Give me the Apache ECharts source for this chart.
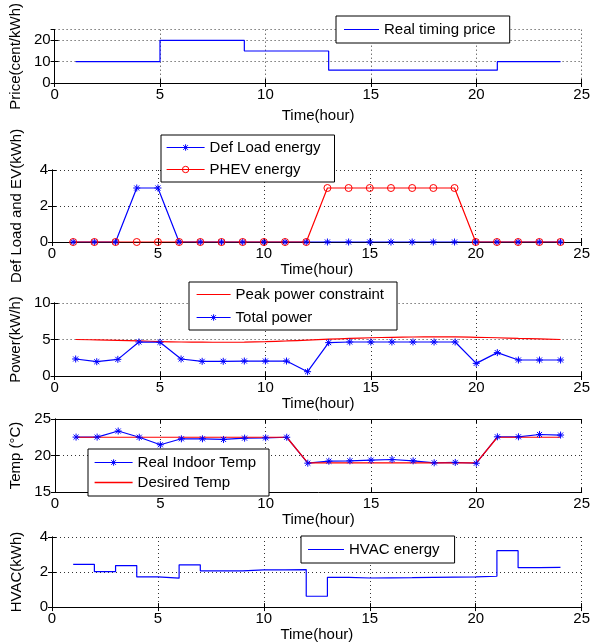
<!DOCTYPE html>
<html><head><meta charset="utf-8">
<script src="https://cdn.jsdelivr.net/npm/echarts@6/dist/echarts.min.js"></script>
<style>html,body{margin:0;padding:0;background:#fff}#c{width:593px;height:643px}</style>
</head><body><div id="c"></div>
<script>
const hours = [1,2,3,4,5,6,7,8,9,10,11,12,13,14,15,16,17,18,19,20,21,22,23,24];
const price = [10,10,10,10,20,20,20,20,15,15,15,15,6,6,6,6,6,6,6,6,10,10,10,10];
const defLoad = [0,0,0,3,3,0,0,0,0,0,0,0,0,0,0,0,0,0,0,0,0,0,0,0];
const phev = [0,0,0,0,0,0,0,0,0,0,0,0,3,3,3,3,3,3,3,0,0,0,0,0];
const peakPower = [5.0,4.95,4.88,4.8,4.72,4.66,4.63,4.62,4.64,4.7,4.8,4.92,5.04,5.15,5.24,5.3,5.34,5.36,5.35,5.3,5.24,5.16,5.08,5.0];
const totalPower = [2.33,1.96,2.28,4.66,4.62,2.33,2.01,2.01,2.05,2.05,2.05,0.59,4.57,4.66,4.66,4.66,4.66,4.66,4.66,1.73,3.2,2.19,2.19,2.19];
const realTemp = [22.52,22.52,23.35,22.5,21.47,22.29,22.29,22.2,22.38,22.42,22.5,18.95,19.22,19.27,19.36,19.45,19.27,19.0,19.05,18.94,22.56,22.56,22.88,22.8];
const desiredTemp = [22.5,22.5,22.5,22.5,22.5,22.5,22.5,22.5,22.5,22.5,22.5,19,19,19,19,19,19,19,19,19,22.5,22.5,22.5,22.5];
const hvac = [2.44,2.02,2.37,1.72,1.65,2.41,2.07,2.07,2.12,2.12,2.14,0.62,1.70,1.66,1.67,1.68,1.70,1.71,1.72,1.76,3.22,2.25,2.27,2.27];
const xAxisName = 'Time(hour)';
const yNames = ['Price(cent/kWh)','Def Load and EV(kWh)','Power(kW/h)','Temp (°C)','HVAC(kWh)'];
const yRanges = [[0,25,10],[0,4,2],[0,10,5],[15,25,5],[0,4,2]];

const FONT = 'Liberation Sans, Arial, sans-serif';
const FS = 15;
const BLUE = '#0000ff', RED = '#ff0000';
const STAR = 'path://M0,-5L0,5M-5,0L5,0M-3.6,-3.6L3.6,3.6M-3.6,3.6L3.6,-3.6';

const gridPos = [
  {top:10, height:73},
  {top:170, height:72},
  {top:303, height:73},
  {top:419, height:73},
  {top:537, height:73}
];
const xNameGaps = [25,18,18,17,16];
const yNameGaps = [28,28,28,32,28];

const grids = gridPos.map(g => ({left:52, right:11, top:g.top, height:g.height, containLabel:false}));
const xAxes = [], yAxes = [];
const lineAxis = {show:true, lineStyle:{color:'#000', width:1}};
const tickIn = {show:true, inside:true, length:4, lineStyle:{color:'#000', width:1}};
const split = {show:true, lineStyle:{color:'#333', type:[1,3], width:1}};
gridPos.forEach((g,i) => {
  xAxes.push({type:'value', gridIndex:i, min:0, max:25, interval:5, position:'bottom',
    axisLine:lineAxis, axisTick:tickIn, splitLine:split,
    axisLabel:{color:'#000', fontFamily:FONT, fontSize:FS, margin:4},
    name:xAxisName, nameLocation:'middle', nameGap:xNameGaps[i],
    nameTextStyle:{color:'#000', fontFamily:FONT, fontSize:FS}});
  xAxes.push({type:'value', gridIndex:i, min:0, max:25, interval:5, position:'top',
    axisLine:lineAxis, axisTick:tickIn, splitLine:{show:false}, axisLabel:{show:false}});
  const r = yRanges[i];
  yAxes.push({type:'value', gridIndex:i, min:r[0], max:r[1], interval:r[2], position:'left',
    axisLine:lineAxis, axisTick:tickIn, splitLine:split,
    axisLabel:{color:'#000', fontFamily:FONT, fontSize:FS, margin:4, showMaxLabel: i===0 ? false : true},
    name:yNames[i], nameLocation:'middle', nameGap:yNameGaps[i], nameRotate:90,
    nameTextStyle:{color:'#000', fontFamily:FONT, fontSize:FS}});
  yAxes.push({type:'value', gridIndex:i, min:r[0], max:r[1], interval:r[2], position:'right',
    axisLine:lineAxis, axisTick:tickIn, splitLine:{show:false}, axisLabel:{show:false}});
});

const pairs = v => hours.map((h,i) => [h, v[i]]);
const lineS = (name, idx, vals, color, extra) => Object.assign({
  type:'line', name, xAxisIndex:2*idx, yAxisIndex:2*idx, data:pairs(vals),
  showSymbol:false, symbol:'none', lineStyle:{color, width:1.2}, itemStyle:{color},
  animation:false, silent:true
}, extra || {});
const starOpt = color => ({showSymbol:true, symbol:STAR, symbolSize:7, symbolKeepAspect:true,
  itemStyle:{color, borderColor:color, borderWidth:1}});
const circOpt = color => ({showSymbol:true, symbol:'circle', symbolSize:7,
  itemStyle:{color:'rgba(255,255,255,0)', borderColor:color, borderWidth:1}});

const series = [
  lineS('Real timing price', 0, price, BLUE, {step:'end'}),
  lineS('Def Load energy', 1, defLoad, BLUE, starOpt(BLUE)),
  lineS('PHEV energy', 1, phev, RED, circOpt(RED)),
  lineS('Peak power constraint', 2, peakPower, RED, {smooth:0.4}),
  lineS('Total power', 2, totalPower, BLUE, starOpt(BLUE)),
  lineS('Real Indoor Temp', 3, realTemp, BLUE, starOpt(BLUE)),
  lineS('Desired Temp', 3, desiredTemp, RED),
  lineS('HVAC energy', 4, hvac, BLUE, {step:'end'})
];

// legend entries: plain line icon for line-only series, line+marker for marked series
const LINE_ICON = 'path://M0,0L38,0L38,1.3L0,1.3Z';
const plainItem = (name, color) => ({name, icon:LINE_ICON, itemStyle:{color, borderWidth:0}});
const starItem = (name, color) => ({name, itemStyle:{color, borderColor:color, borderWidth:1}, lineStyle:{color, width:1.2}});
const circItem = (name, color) => ({name, itemStyle:{color:'rgba(255,255,255,0)', borderColor:color, borderWidth:1}, lineStyle:{color, width:1.2}});

const legendBase = {orient:'vertical', borderColor:'#000', borderWidth:1, backgroundColor:'#fff',
  itemHeight:8, selectedMode:false, symbolKeepAspect:true,
  textStyle:{color:'#000', fontFamily:FONT, fontSize:FS, lineHeight:17}};
const legends = [
  Object.assign({}, legendBase, {data:[plainItem('Real timing price', BLUE)], left:336, top:16, itemWidth:35, itemGap:0, padding:[5,14,5,8]}),
  Object.assign({}, legendBase, {data:[starItem('Def Load energy', BLUE), circItem('PHEV energy', RED)], left:161, top:135, itemWidth:38, itemGap:5, padding:[4,14,4,5]}),
  Object.assign({}, legendBase, {data:[plainItem('Peak power constraint', RED), starItem('Total power', BLUE)], left:189, top:282, itemWidth:34, itemGap:6, padding:[4,13,4,7]}),
  Object.assign({}, legendBase, {data:[starItem('Real Indoor Temp', BLUE), plainItem('Desired Temp', RED)], left:88, top:449, itemWidth:38, itemGap:3, padding:[5,13,5,6]}),
  Object.assign({}, legendBase, {data:[plainItem('HVAC energy', BLUE)], left:301, top:536, itemWidth:36, itemGap:0, padding:[5,15,5,7]})
];

const chart = echarts.init(document.getElementById('c'), null, {renderer:'canvas'});
chart.setOption({
  animation:false,
  backgroundColor:'#fff',
  grid:grids, xAxis:xAxes, yAxis:yAxes, legend:legends, series
});
</script></body></html>
